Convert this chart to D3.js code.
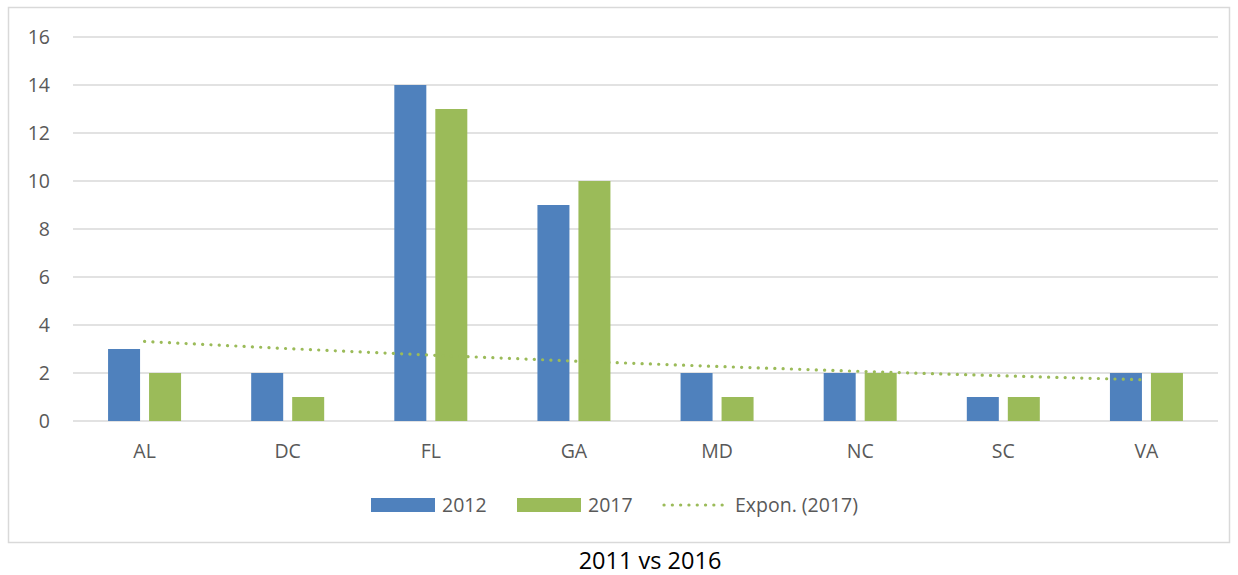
<!DOCTYPE html>
<html>
<head>
<meta charset="utf-8">
<script src="https://cdn.jsdelivr.net/npm/d3@7"></script>
<style>
  body { margin: 0; background: #fff; }
  text { font-family: "Open Sans", "Noto Sans", sans-serif; }
</style>
</head>
<body>
<svg id="chart" width="1238" height="575"></svg>
<script>
// data
var states = ["AL", "DC", "FL", "GA", "MD", "NC", "SC", "VA"];
var values2012 = [3, 2, 14, 9, 2, 2, 1, 2];
var values2017 = [2, 1, 13, 10, 1, 2, 1, 2];
var yTicks = [0, 2, 4, 6, 8, 10, 12, 14, 16];
var seriesNames = ["2012", "2017"];
var trendName = "Expon. (2017)";
var title = "2011 vs 2016";

(function () {
  var svg = d3.select("#chart");
  var blue = "#4f81bd", green = "#9bbb59", grid = "#d9d9d9", textCol = "#595959";
  var fontSize = "19.5px";

  // chart frame
  svg.append("rect")
    .attr("x", 8.5).attr("y", 7.5)
    .attr("width", 1221).attr("height", 535)
    .attr("fill", "#fff")
    .attr("stroke", grid)
    .attr("stroke-width", 1.5);

  var margin = {left: 73, right: 20, top: 37, bottom: 154};
  var width = 1238 - margin.left - margin.right;
  var height = 575 - margin.top - margin.bottom;

  var g = svg.append("g")
    .attr("transform", "translate(" + margin.left + "," + margin.top + ")");

  var x = d3.scaleBand().domain(states).range([0, width]);
  var y = d3.scaleLinear().domain([0, 16]).range([height, 0]);

  // gridlines
  g.selectAll(".grid")
    .data(yTicks)
    .enter().append("line")
    .attr("class", "grid")
    .attr("x1", 0).attr("x2", width)
    .attr("y1", function(d) { return y(d); })
    .attr("y2", function(d) { return y(d); })
    .attr("stroke", grid)
    .attr("stroke-width", 1.5);

  // y axis labels
  var yAxis = g.append("g")
    .call(d3.axisLeft(y).tickValues(yTicks).tickSize(0).tickPadding(23));
  yAxis.select(".domain").remove();
  yAxis.selectAll("text")
    .attr("fill", textCol)
    .style("font-size", fontSize);

  // x axis labels
  var xAxis = g.append("g")
    .attr("transform", "translate(0," + height + ")")
    .call(d3.axisBottom(x).tickSize(0).tickPadding(23));
  xAxis.select(".domain").remove();
  xAxis.selectAll("text")
    .attr("fill", textCol)
    .style("font-size", fontSize);

  // bars
  var barW = 32, gap = 9;
  var series = [values2012, values2017];
  var colors = [blue, green];
  series.forEach(function(vals, si) {
    g.selectAll(".bar" + si)
      .data(vals)
      .enter().append("rect")
      .attr("x", function(d, i) {
        return x(states[i]) + x.bandwidth() / 2 + (si === 0 ? -gap / 2 - barW : gap / 2);
      })
      .attr("y", function(d) { return y(d); })
      .attr("width", barW)
      .attr("height", function(d) { return y(0) - y(d); })
      .attr("fill", colors[si]);
  });

  // exponential trendline of 2017 (least squares on ln y)
  var n = values2017.length;
  var xs = d3.range(1, n + 1);
  var ly = values2017.map(function(v) { return Math.log(v); });
  var mx = d3.mean(xs), my = d3.mean(ly);
  var sxy = d3.sum(xs, function(v, i) { return (v - mx) * (ly[i] - my); });
  var sxx = d3.sum(xs, function(v) { return (v - mx) * (v - mx); });
  var b = sxy / sxx, a = my - b * mx;
  var trend = xs.map(function(v) { return Math.exp(a + b * v); });

  var line = d3.line()
    .x(function(d, i) { return x(states[i]) + x.bandwidth() / 2; })
    .y(function(d) { return y(d); });

  g.append("path")
    .datum(trend)
    .attr("d", line)
    .attr("fill", "none")
    .attr("stroke", green)
    .attr("stroke-width", 3.2)
    .attr("stroke-linecap", "round")
    .attr("stroke-dasharray", "0.1 8.2");

  // legend
  var leg = svg.append("g").attr("transform", "translate(0,505)");
  leg.append("rect").attr("x", 371).attr("y", -7).attr("width", 64).attr("height", 14).attr("fill", blue);
  leg.append("text").attr("x", 442).attr("y", 0).attr("dy", "0.36em")
    .attr("fill", textCol).style("font-size", fontSize).text(seriesNames[0]);
  leg.append("rect").attr("x", 517).attr("y", -7).attr("width", 64).attr("height", 14).attr("fill", green);
  leg.append("text").attr("x", 588).attr("y", 0).attr("dy", "0.36em")
    .attr("fill", textCol).style("font-size", fontSize).text(seriesNames[1]);
  leg.append("line").attr("x1", 664).attr("x2", 728).attr("y1", 0).attr("y2", 0)
    .attr("stroke", green).attr("stroke-width", 3.2)
    .attr("stroke-linecap", "round").attr("stroke-dasharray", "0.1 8.2");
  leg.append("text").attr("x", 735).attr("y", 0).attr("dy", "0.36em")
    .attr("fill", textCol).style("font-size", fontSize).text(trendName);

  // caption under the frame
  svg.append("text")
    .attr("x", 650).attr("y", 569)
    .attr("text-anchor", "middle")
    .attr("fill", "#000")
    .style("font-size", "23.5px")
    .text(title);
}());
</script>
</body>
</html>
